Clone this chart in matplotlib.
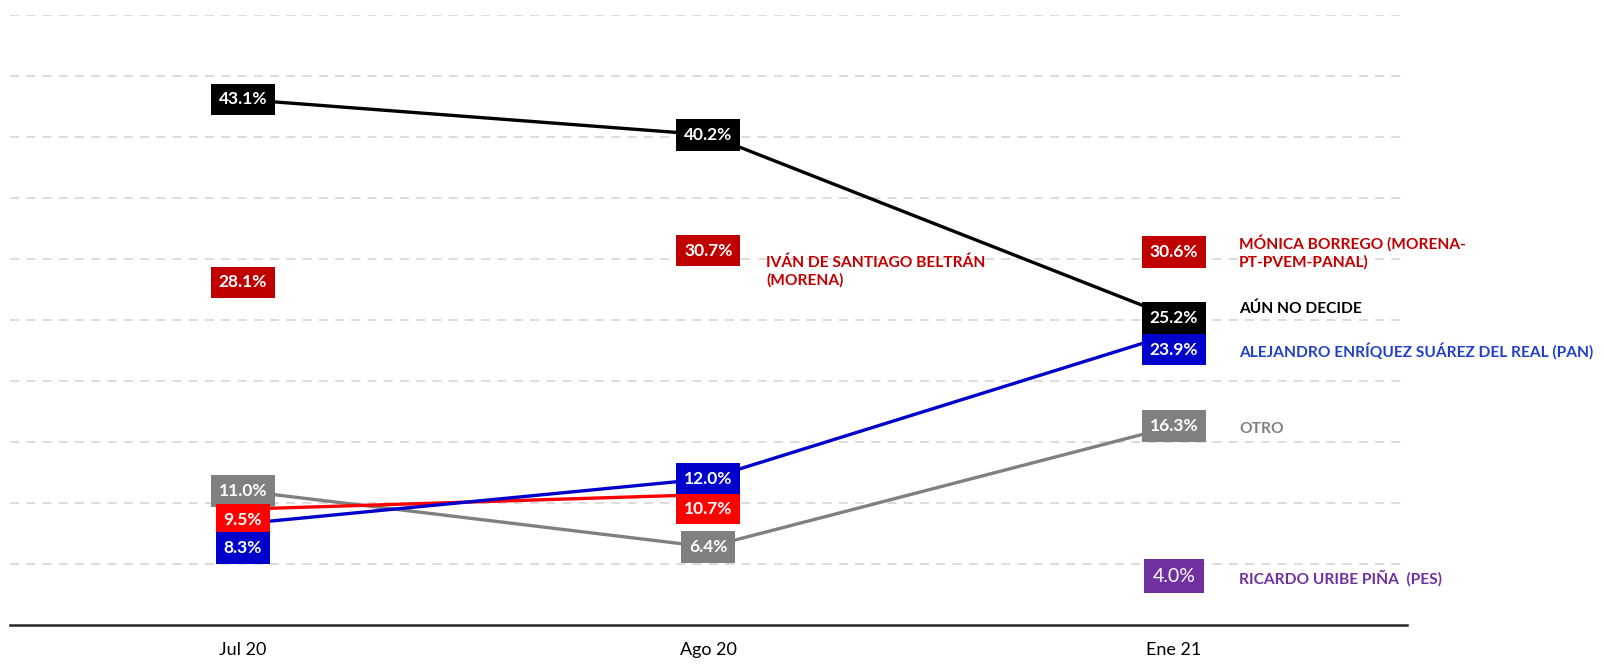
import numpy as np
import matplotlib.pyplot as plt

plt.rcParams['font.family'] = ['Lato', 'DejaVu Sans']

meses = ['Jul 20', 'Ago 20', 'Ene 21']

no_decide = [43.1, 40.2, 25.2]
rojo = [9.5, 10.7, np.nan]
pan = [8.3, 12.0, 23.9]
otro = [11.0, 6.4, 16.3]
morena = [28.1, 30.7, 30.6]
pes = [np.nan, np.nan, 4.0]

nombres = {
    'morena_ago': 'IVÁN DE SANTIAGO BELTRÁN\n(MORENA)',
    'morena_ene': 'MÓNICA BORREGO (MORENA-\nPT-PVEM-PANAL)',
    'no_decide': 'AÚN NO DECIDE',
    'pan': 'ALEJANDRO ENRÍQUEZ SUÁREZ DEL REAL (PAN)',
    'otro': 'OTRO',
    'pes': 'RICARDO URIBE PIÑA  (PES)',
}

NEGRO = '#000000'
ROJO = '#FF0000'
AZUL = '#0000CC'
GRIS = '#808080'
GUINDA = '#C00000'
MORADO = '#7030A0'

fig = plt.figure(figsize=(16.04, 6.68), dpi=100)
ax = fig.add_axes([0.0062, 0.0644, 0.8708, 0.9126])
x = np.arange(len(meses))

ax.set_xlim(-0.5, 2.5)
ax.set_ylim(0, 50)

for g in range(5, 51, 5):
    ax.axhline(g, color='#D9D9D9', lw=1.3, dashes=(5, 4), zorder=0)

for serie, color in [(otro, GRIS), (rojo, ROJO), (pan, AZUL), (no_decide, NEGRO)]:
    ax.plot(x, serie, color=color, lw=2.4, zorder=2)


def etiqueta(xi, v, color, dy=0, bold=True, size=12.5):
    if np.isnan(v):
        return
    ax.annotate(f'{v:.1f}%', (xi, v), xytext=(0, dy), textcoords='offset pixels',
                ha='center', va='center', color='white', fontsize=size,
                fontweight='bold' if bold else 'normal', zorder=5,
                bbox=dict(boxstyle='square,pad=0.45', fc=color, ec='none'))


# desplazamientos (px) para evitar solapes
desp_rojo = [-11, -14, 0]
desp_pan = [-24, 0, -16]

for i in x:
    etiqueta(i, no_decide[i], NEGRO)
    etiqueta(i, morena[i], GUINDA)
    etiqueta(i, otro[i], GRIS)
    etiqueta(i, rojo[i], ROJO, desp_rojo[i])
    etiqueta(i, pan[i], AZUL, desp_pan[i])
    etiqueta(i, pes[i], MORADO, bold=False, size=14)


def nombre(xi, v, texto, color, dy=0, dx=65):
    ax.annotate(texto, (xi, v), xytext=(dx, dy), textcoords='offset pixels',
                ha='left', va='center', color=color, fontsize=11.2,
                fontweight='bold', linespacing=1.3)


nombre(1, morena[1], nombres['morena_ago'], GUINDA, dy=-21, dx=58)
nombre(2, morena[2], nombres['morena_ene'], GUINDA)
nombre(2, no_decide[2], nombres['no_decide'], NEGRO, dy=9)
nombre(2, pan[2], nombres['pan'], '#2040C8', dy=-18)
nombre(2, otro[2], nombres['otro'], GRIS, dy=-3)
nombre(2, pes[2], nombres['pes'], MORADO, dy=-2)

for s in ['top', 'right', 'left']:
    ax.spines[s].set_visible(False)
ax.spines['bottom'].set_color('#262626')
ax.spines['bottom'].set_linewidth(1.8)
ax.set_yticks([])
ax.set_xticks(x)
ax.set_xticklabels(meses, fontsize=13)
ax.tick_params(axis='x', length=0, pad=12)

fig.savefig('out.png', dpi=100)
